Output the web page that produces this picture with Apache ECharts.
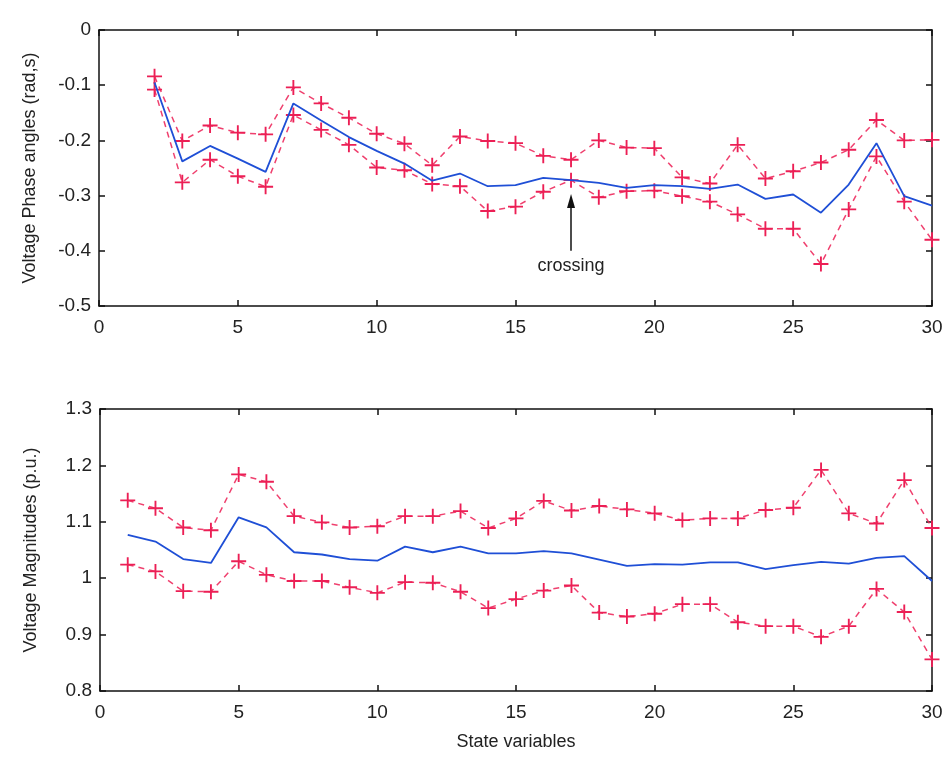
<!DOCTYPE html>
<html>
<head>
<meta charset="utf-8">
<script src="https://cdn.jsdelivr.net/npm/echarts@6/dist/echarts.min.js"></script>
<style>
  html, body { margin: 0; padding: 0; background: #fff; }
  #chart { width: 948px; height: 757px; }
</style>
</head>
<body>
<div id="chart"></div>
<script>
// top panel: voltage phase angles, state variables 2..30
const phaseX = [2, 3, 4, 5, 6, 7, 8, 9, 10, 11, 12, 13, 14, 15, 16, 17, 18, 19, 20, 21, 22, 23, 24, 25, 26, 27, 28, 29, 30];
const phaseMean = [-0.095, -0.238, -0.210, -0.233, -0.257, -0.133, -0.164, -0.194, -0.219, -0.242, -0.273, -0.260, -0.283, -0.281, -0.268, -0.272, -0.277, -0.286, -0.281, -0.283, -0.288, -0.280, -0.306, -0.298, -0.331, -0.280, -0.205, -0.301, -0.318];
const phaseUpper = [-0.084, -0.201, -0.173, -0.186, -0.189, -0.104, -0.133, -0.159, -0.188, -0.206, -0.245, -0.193, -0.201, -0.205, -0.228, -0.235, -0.200, -0.213, -0.214, -0.267, -0.278, -0.208, -0.269, -0.256, -0.240, -0.217, -0.163, -0.200, -0.199];
const phaseLower = [-0.108, -0.276, -0.235, -0.265, -0.284, -0.154, -0.181, -0.208, -0.249, -0.254, -0.279, -0.283, -0.328, -0.320, -0.293, -0.272, -0.303, -0.292, -0.291, -0.301, -0.311, -0.334, -0.360, -0.360, -0.424, -0.325, -0.229, -0.311, -0.380];

// bottom panel: voltage magnitudes, state variables 1..30
const magX = [1, 2, 3, 4, 5, 6, 7, 8, 9, 10, 11, 12, 13, 14, 15, 16, 17, 18, 19, 20, 21, 22, 23, 24, 25, 26, 27, 28, 29, 30];
const magMean = [1.077, 1.065, 1.034, 1.027, 1.108, 1.090, 1.046, 1.042, 1.034, 1.031, 1.056, 1.046, 1.056, 1.044, 1.044, 1.048, 1.044, 1.033, 1.022, 1.025, 1.024, 1.028, 1.028, 1.016, 1.023, 1.029, 1.026, 1.036, 1.039, 0.995];
const magUpper = [1.138, 1.124, 1.090, 1.085, 1.184, 1.171, 1.110, 1.099, 1.090, 1.092, 1.110, 1.110, 1.119, 1.089, 1.106, 1.137, 1.120, 1.128, 1.122, 1.115, 1.103, 1.106, 1.106, 1.121, 1.125, 1.192, 1.115, 1.097, 1.174, 1.089];
const magLower = [1.024, 1.012, 0.977, 0.976, 1.030, 1.006, 0.995, 0.995, 0.984, 0.974, 0.993, 0.992, 0.976, 0.947, 0.963, 0.978, 0.987, 0.939, 0.932, 0.937, 0.954, 0.954, 0.922, 0.915, 0.915, 0.896, 0.915, 0.981, 0.940, 0.856];

// annotation "crossing": arrow from tail to head at state variable 17
const crossingX = 17;
const crossingTail = -0.40;
const crossingHead = -0.31;

const fontFamily = "'Liberation Sans', Arial, sans-serif";
const red = "#ec1f55";
const blue = "#1f4fd6";
const plus = "path://M7,0 L9,0 L9,7 L16,7 L16,9 L9,9 L9,16 L7,16 L7,9 L0,9 L0,7 L7,7 Z";

const pairs = (xs, ys) => xs.map((x, i) => [x, ys[i]]);

const frameLine = { show: true, onZero: false, lineStyle: { color: "#111", width: 1.5 } };
const frameTick = { show: true, inside: true, length: 6, lineStyle: { color: "#111", width: 1.5 } };

function xAxes(gridIndex, withName) {
  const base = {
    gridIndex,
    type: "value",
    min: 0,
    max: 30,
    interval: 5,
    splitLine: { show: false },
    axisLine: frameLine,
    axisTick: frameTick
  };
  return [
    Object.assign({}, base, {
      position: "bottom",
      axisLabel: { color: "#222", fontSize: 19, fontFamily, margin: 12 },
      name: withName ? "State variables" : "",
      nameLocation: "middle",
      nameGap: 42,
      nameTextStyle: { color: "#222", fontSize: 18, fontFamily }
    }),
    Object.assign({}, base, { position: "top", axisLabel: { show: false } })
  ];
}

function yAxes(gridIndex, min, max, name) {
  const base = {
    gridIndex,
    type: "value",
    min,
    max,
    interval: 0.1,
    splitLine: { show: false },
    axisLine: frameLine,
    axisTick: frameTick
  };
  return [
    Object.assign({}, base, {
      position: "left",
      axisLabel: { color: "#222", fontSize: 19, fontFamily, margin: 8 },
      name,
      nameLocation: "middle",
      nameGap: 60,
      nameTextStyle: { color: "#222", fontSize: 18, fontFamily }
    }),
    Object.assign({}, base, { position: "right", axisLabel: { show: false } })
  ];
}

function bound(data, xAxisIndex, yAxisIndex) {
  return {
    type: "line",
    xAxisIndex,
    yAxisIndex,
    data,
    symbol: plus,
    symbolSize: 15,
    itemStyle: { color: red },
    lineStyle: { color: red, width: 1.5, type: [6, 5], opacity: 0.85 },
    z: 2
  };
}

function mean(data, xAxisIndex, yAxisIndex) {
  return {
    type: "line",
    xAxisIndex,
    yAxisIndex,
    data,
    showSymbol: false,
    lineStyle: { color: blue, width: 1.8 },
    z: 3
  };
}

const option = {
  animation: false,
  backgroundColor: "#fff",
  grid: [
    { left: 99, right: 16, top: 30, height: 276 },
    { left: 100, right: 16, top: 409, height: 282 }
  ],
  xAxis: [...xAxes(0, false), ...xAxes(1, true)],
  yAxis: [
    ...yAxes(0, -0.5, 0, "Voltage Phase angles (rad,s)"),
    ...yAxes(1, 0.8, 1.3, "Voltage Magnitudes (p.u.)")
  ],
  series: [
    bound(pairs(phaseX, phaseUpper), 0, 0),
    bound(pairs(phaseX, phaseLower), 0, 0),
    Object.assign(mean(pairs(phaseX, phaseMean), 0, 0), {
      markLine: {
        silent: true,
        symbol: ["none", "triangle"],
        symbolSize: [8, 14],
        lineStyle: { color: "#111", width: 1.5, type: "solid" },
        label: {
          show: true,
          position: "start",
          distance: 6,
          formatter: "crossing",
          color: "#222",
          fontSize: 18,
          fontFamily
        },
        data: [[{ coord: [crossingX, crossingTail] }, { coord: [crossingX, crossingHead] }]]
      }
    }),
    bound(pairs(magX, magUpper), 2, 2),
    bound(pairs(magX, magLower), 2, 2),
    mean(pairs(magX, magMean), 2, 2)
  ]
};

const chart = echarts.init(document.getElementById("chart"));
chart.setOption(option);
</script>
</body>
</html>
